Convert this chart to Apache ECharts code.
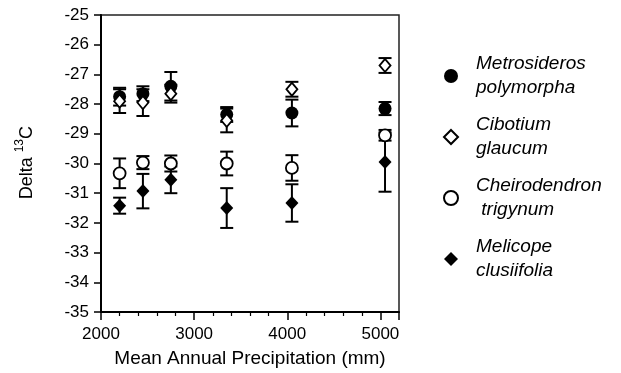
<!DOCTYPE html>
<html>
<head>
<meta charset="utf-8">
<script src="https://cdn.jsdelivr.net/npm/echarts@6/dist/echarts.min.js"></script>
<style>
  html, body { margin: 0; padding: 0; background: #fff; }
  #chart { width: 621px; height: 373px; }
</style>
</head>
<body>
<div id="chart"></div>
<script>
// mean annual precipitation of the sites (mm)
const precip = [2200, 2450, 2750, 3350, 4050, 5050];

const speciesNames = [
  "Metrosideros\npolymorpha",
  "Cibotium\nglaucum",
  "Cheirodendron\n trigynum",
  "Melicope\nclusiifolia"
];

// delta 13C means and error (+/-)
const metroMean = [-27.75, -27.65, -27.4, -28.35, -28.3, -28.15];
const metroErr = [0.3, 0.25, 0.48, 0.25, 0.45, 0.22];
const cibotMean = [-27.9, -27.95, -27.65, -28.55, -27.5, -26.7];
const cibotErr = [0.4, 0.45, 0.3, 0.4, 0.25, 0.25];
const cheiroMean = [-30.33, -29.97, -30.0, -30.0, -30.15, -29.05];
const cheiroErr = [0.5, 0.22, 0.27, 0.4, 0.43, 0.18];
const meliMean = [-31.42, -30.93, -30.55, -31.5, -31.33, -29.95];
const meliErr = [0.27, 0.58, 0.45, 0.67, 0.63, 1.0];

const xTicks = [2000, 3000, 4000, 5000];
const yTicks = [-35, -34, -33, -32, -31, -30, -29, -28, -27, -26, -25];

const FONT = "Liberation Sans";

function points(mean) {
  return precip.map((x, i) => [x, mean[i]]);
}
function bars(mean, err) {
  return precip.map((x, i) => [x, mean[i] - err[i], mean[i] + err[i]]);
}

function renderErr(params, api) {
  const lo = api.coord([api.value(0), api.value(1)]);
  const hi = api.coord([api.value(0), api.value(2)]);
  const cx = lo[0];
  const w = 6.5;
  const st = { stroke: "#000", lineWidth: 2 };
  return {
    type: "group",
    children: [
      { type: "line", shape: { x1: cx, y1: lo[1], x2: cx, y2: hi[1] }, style: st },
      { type: "line", shape: { x1: cx - w, y1: lo[1], x2: cx + w, y2: lo[1] }, style: st },
      { type: "line", shape: { x1: cx - w, y1: hi[1], x2: cx + w, y2: hi[1] }, style: st }
    ]
  };
}

function errSeries(mean, err) {
  return {
    type: "custom",
    renderItem: renderErr,
    encode: { x: 0, y: [1, 2] },
    data: bars(mean, err),
    z: 1,
    silent: true
  };
}

const chart = echarts.init(document.getElementById("chart"));

const option = {
  animation: false,
  backgroundColor: "#fff",
  grid: {
    left: 101,
    right: 222,
    top: 15,
    bottom: 59,
    show: true,
    borderColor: "#222",
    borderWidth: 1.5
  },
  legend: {
    orient: "vertical",
    left: 438,
    top: 47,
    itemWidth: 14,
    itemHeight: 14,
    itemGap: 13,
    data: speciesNames,
    textStyle: {
      fontFamily: FONT,
      fontStyle: "italic",
      fontSize: 19,
      lineHeight: 24,
      color: "#000",
      padding: [0, 0, 0, 13]
    }
  },
  xAxis: {
    type: "value",
    min: 2000,
    max: 5200,
    interval: 1000,
    name: "Mean Annual Precipitation (mm)",
    nameLocation: "middle",
    nameGap: 37,
    nameTextStyle: { fontFamily: FONT, fontSize: 19, color: "#000" },
    axisLine: { lineStyle: { color: "#000", width: 2 } },
    axisTick: { show: true, length: 8, lineStyle: { color: "#000", width: 1.5 } },
    minorTick: { show: true, splitNumber: 5, length: 4, lineStyle: { color: "#000", width: 1.2 } },
    axisLabel: {
      margin: 14,
      showMaxLabel: false,
      fontFamily: FONT,
      fontSize: 17,
      color: "#000",
      formatter: v => (xTicks.includes(v) ? String(v) : "")
    },
    splitLine: { show: false }
  },
  yAxis: {
    type: "value",
    min: -35,
    max: -25,
    interval: 1,
    axisLine: { lineStyle: { color: "#000", width: 2 } },
    axisTick: { show: true, length: 7, lineStyle: { color: "#000", width: 1.5 } },
    axisLabel: {
      margin: 12,
      fontFamily: FONT,
      fontSize: 17,
      color: "#000",
      formatter: v => (yTicks.includes(v) ? String(v) : "")
    },
    splitLine: { show: false }
  },
  graphic: [
    {
      type: "text",
      left: 14,
      top: 126,
      rotation: Math.PI / 2,
      style: {
        text: "{a|Delta }{b|13}{a|C}",
        rich: {
          a: { fontFamily: FONT, fontSize: 18, color: "#000", lineHeight: 22, verticalAlign: "bottom" },
          b: { fontFamily: FONT, fontSize: 12, color: "#000", lineHeight: 22, verticalAlign: "top" }
        }
      }
    }
  ],
  series: [
    errSeries(metroMean, metroErr),
    errSeries(cibotMean, cibotErr),
    errSeries(cheiroMean, cheiroErr),
    errSeries(meliMean, meliErr),
    {
      name: speciesNames[0],
      type: "scatter",
      symbol: "circle",
      symbolSize: 13,
      itemStyle: { color: "#000", borderColor: "#000", borderWidth: 0, opacity: 1 },
      data: points(metroMean),
      z: 3
    },
    {
      name: speciesNames[1],
      type: "scatter",
      symbol: "diamond",
      symbolSize: [11, 13],
      itemStyle: { color: "#fff", borderColor: "#000", borderWidth: 1.8, opacity: 1 },
      data: points(cibotMean),
      z: 4
    },
    {
      name: speciesNames[2],
      type: "scatter",
      symbol: "circle",
      symbolSize: 12,
      itemStyle: { color: "#fff", borderColor: "#000", borderWidth: 1.8, opacity: 1 },
      data: points(cheiroMean),
      z: 3
    },
    {
      name: speciesNames[3],
      type: "scatter",
      symbol: "diamond",
      symbolSize: [13, 14],
      itemStyle: { color: "#000", borderColor: "#000", borderWidth: 0, opacity: 1 },
      data: points(meliMean),
      z: 3
    }
  ]
};

chart.setOption(option);
</script>
</body>
</html>
